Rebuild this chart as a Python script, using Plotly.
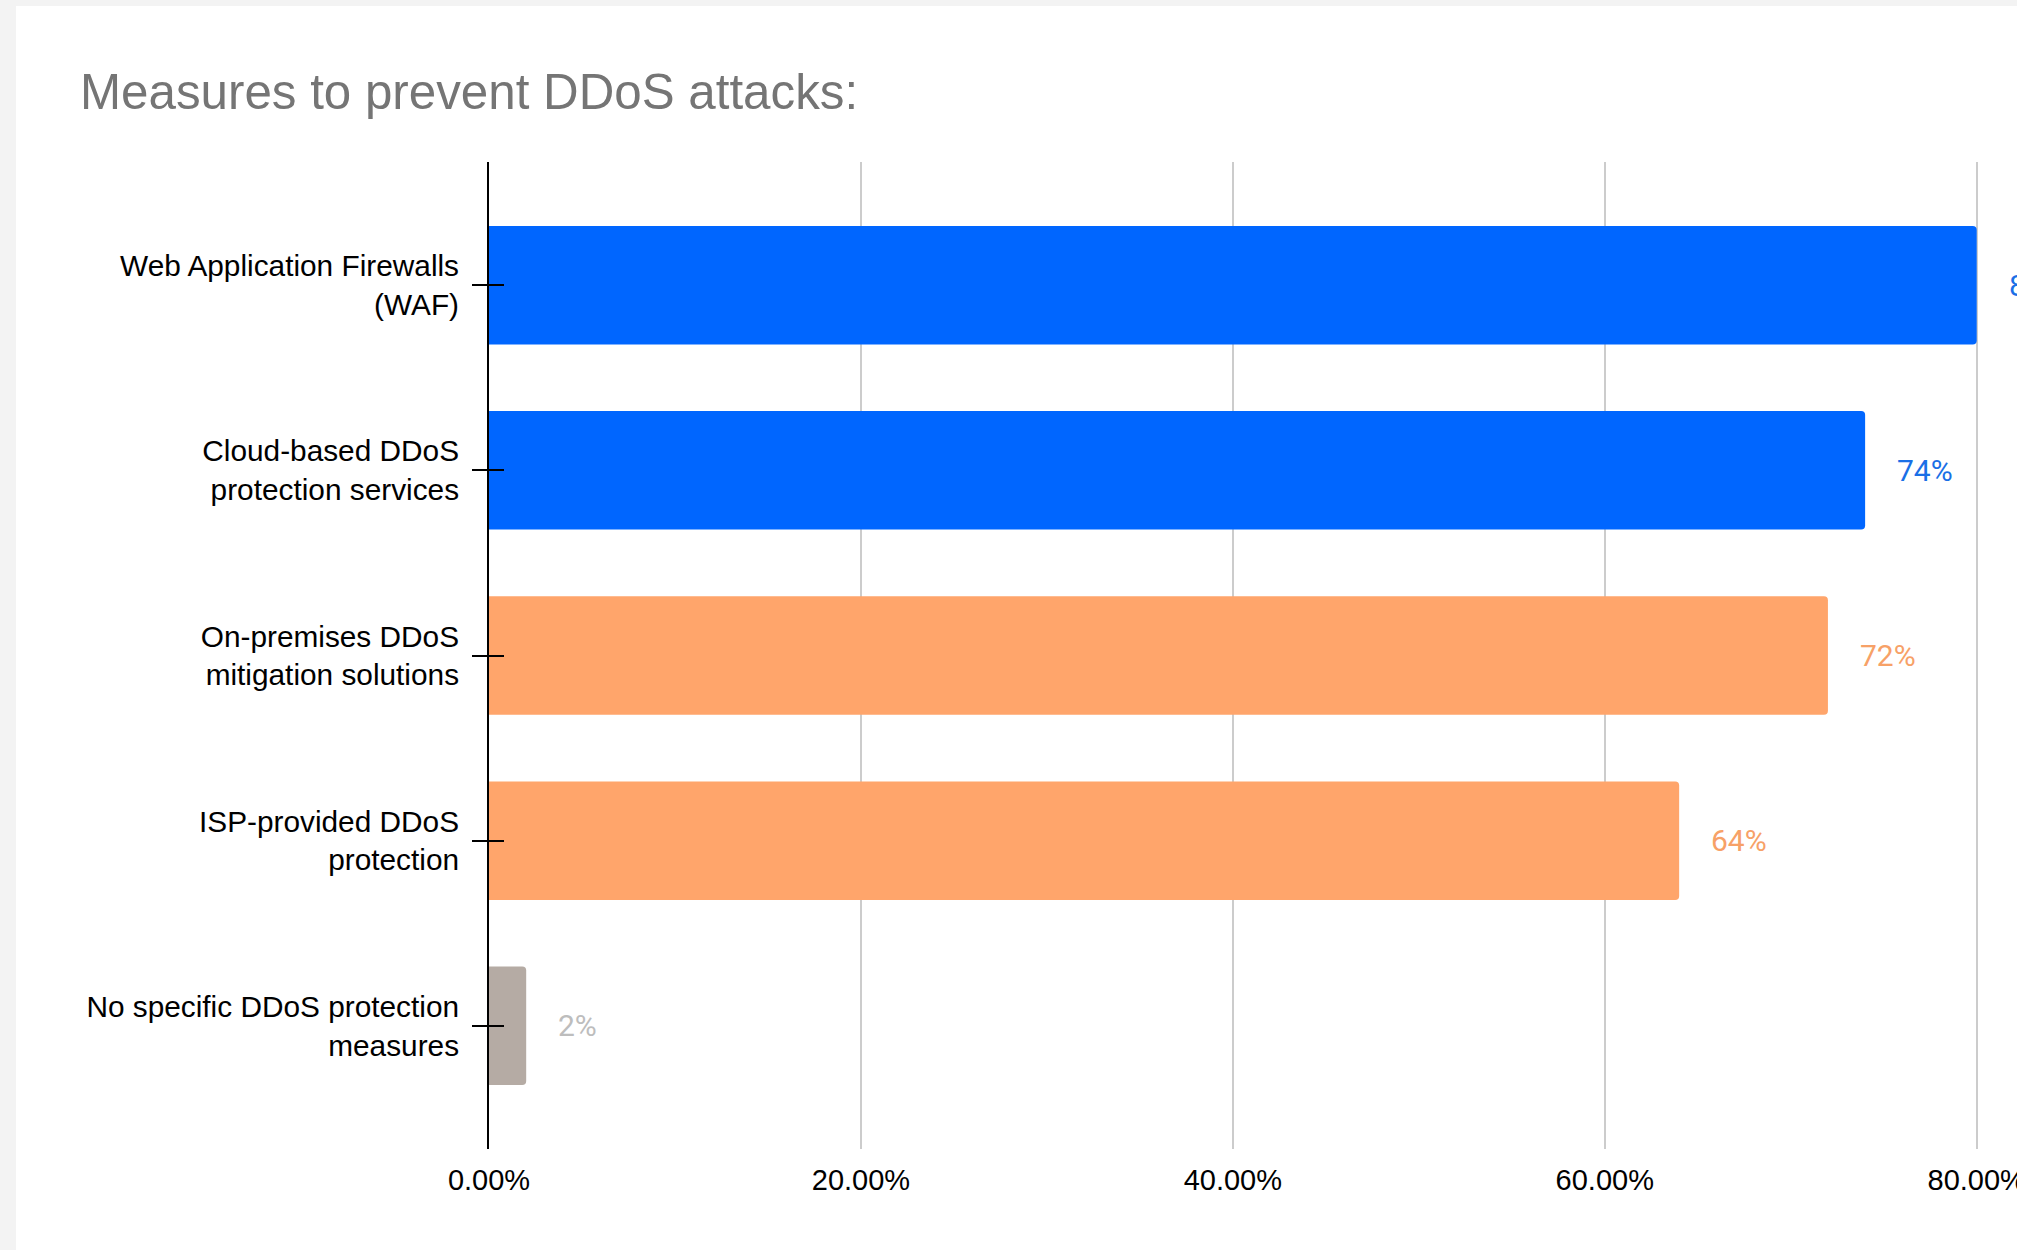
import plotly.graph_objects as go

# ---- data ----
categories = [
    "Web Application Firewalls<br>(WAF)",
    "Cloud-based DDoS<br>protection services",
    "On-premises DDoS<br>mitigation solutions",
    "ISP-provided DDoS<br>protection",
    "No specific DDoS protection<br>measures",
]
values = [80, 74, 72, 64, 2]
bar_colors = ["#0066ff", "#0066ff", "#ffa56b", "#ffa56b", "#b5aba4"]
label_colors = ["#1a6fe6", "#1a6fe6", "#f7a167", "#f7a167", "#bdbdbd"]
x_ticks = [0, 20, 40, 60, 80]
x_tick_labels = ["0.00%", "20.00%", "40.00%", "60.00%", "80.00%"]
title_text = "Measures to prevent DDoS attacks:"

# ---- layout constants ----
W, H = 2017, 1250
ML, MR, MT, MB = 489, 31, 162, 101
PW, PH = W - ML - MR, H - MT - MB
YRANGE = [4.665, -0.665]
AXIS_FONT = "Liberation Sans, Arial, sans-serif"

fig = go.Figure()
fig.add_trace(go.Bar(
    x=values, y=categories, orientation="h",
    marker=dict(color=bar_colors, line=dict(width=0)),
    width=0.64, hoverinfo="x+y", showlegend=False,
))
# helper trace so the overlay axis (inside half of the y ticks) renders
fig.add_trace(go.Scatter(
    x=values, y=categories, yaxis="y2", mode="none",
    hoverinfo="skip", showlegend=False,
))

for v, c, col in zip(values, categories, label_colors):
    fig.add_annotation(
        x=v, y=c, xref="x", yref="y", text=f"{v}%", showarrow=False,
        xanchor="left", xshift=30,
        font=dict(family="Roboto, Arial, sans-serif", size=30, color=col),
    )

# light grey frame strip on left/top (screenshot border)
fig.add_shape(
    type="rect", xref="paper", yref="paper", layer="below",
    x0=(16 - ML) / PW, x1=(W + 50 - ML) / PW,
    y0=(-50 - MB) / PH, y1=(H - 6 - MB) / PH,
    fillcolor="white", line=dict(width=0),
)

fig.update_layout(
    width=W, height=H, autosize=False,
    margin=dict(l=ML, r=MR, t=MT, b=MB, pad=0, autoexpand=False),
    paper_bgcolor="#f3f3f3", plot_bgcolor="white",
    barcornerradius=4,
    title=dict(
        text=title_text, xref="container", yref="container",
        x=80 / W, xanchor="left", y=1 - 92 / H, yanchor="middle",
        font=dict(family=AXIS_FONT, size=49.3, color="#757575"),
    ),
    xaxis=dict(
        range=[0, 80.5], tickvals=x_ticks, ticktext=x_tick_labels,
        showgrid=True, gridcolor="#cccccc", gridwidth=1.5,
        zeroline=False, showline=False, ticks="", automargin=False,
        ticklabeloverflow="allow", ticklabelstandoff=11,
        tickfont=dict(family=AXIS_FONT, size=29, color="black"),
        fixedrange=True,
    ),
    yaxis=dict(
        type="category", categoryorder="array", categoryarray=categories,
        range=YRANGE, showgrid=False, zeroline=False, automargin=False,
        showline=True, linecolor="black", linewidth=2,
        ticks="outside", ticklen=15, tickwidth=2, tickcolor="black",
        ticklabelstandoff=7,
        tickfont=dict(family=AXIS_FONT, size=29.8, color="black"),
        fixedrange=True,
    ),
    yaxis2=dict(
        type="category", categoryorder="array", categoryarray=categories,
        range=YRANGE, overlaying="y", anchor="x", side="left",
        showgrid=False, zeroline=False, showline=False, automargin=False,
        ticks="inside", ticklen=15, tickwidth=2, tickcolor="black",
        showticklabels=False, fixedrange=True,
    ),
)

fig.write_html(
    "out.html",
    config={"displayModeBar": False},
    post_script="document.body.style.margin='0';document.body.style.overflow='hidden';",
)
